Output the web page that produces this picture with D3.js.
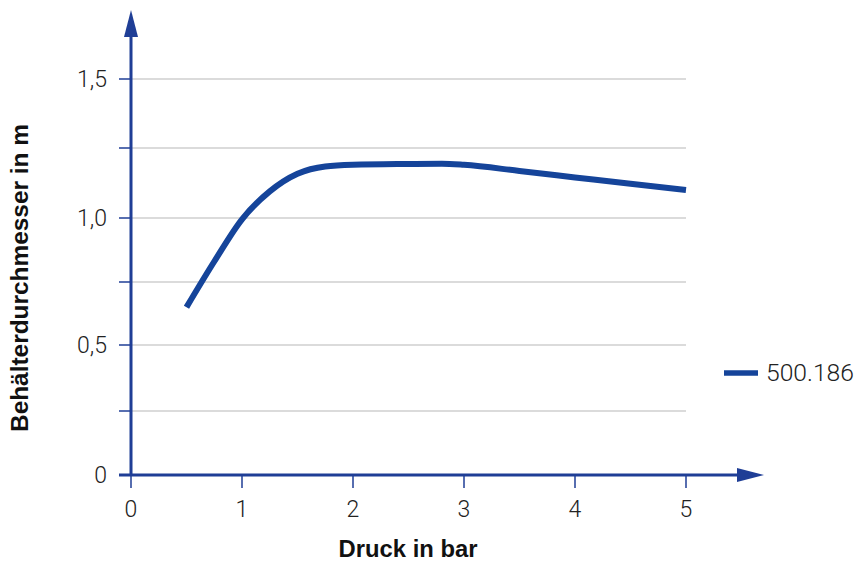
<!DOCTYPE html>
<html><head><meta charset="utf-8">
<script src="https://cdn.jsdelivr.net/npm/d3@7/dist/d3.min.js"></script>
<style>
html,body{margin:0;padding:0;background:#fff;}
text{font-family:"Liberation Sans","Helvetica Neue",Helvetica,Arial,sans-serif;}
text.lt{font-family:"Roboto","Liberation Sans",sans-serif;font-weight:300;}
</style></head>
<body><svg id="c" width="864" height="562"></svg>
<script>
// ---- data ----
const pressure = [0.5, 0.75, 1.0, 1.25, 1.5, 1.75, 2.0, 2.5, 2.8, 3.0, 3.5, 4.0, 4.5, 5.0];
const diameter = [0.65, 0.83, 0.995, 1.095, 1.158, 1.184, 1.19, 1.193, 1.194, 1.19, 1.168, 1.145, 1.122, 1.10];
const seriesName = "500.186";
const xTicks = [0, 1, 2, 3, 4, 5];
const yTicks = [0, 0.25, 0.5, 0.75, 1.0, 1.25, 1.5];
const yTickLabels = ["0", "", "0,5", "", "1,0", "", "1,5"];
const xTitle = "Druck in bar";
const yTitle = "Behälterdurchmesser in m";

const svg = d3.select("#c");
const axisColor = "#1f3e96";
const lineColor = "#15449a";

const x = d3.scaleLinear().domain([0, 5]).range([131, 686]);
const y = d3.scaleLinear().domain(yTicks).range([475, 411, 345, 282, 218, 148, 79]);

// gridlines
svg.append("g").selectAll("line").data(yTicks.filter(d => d > 0)).join("line")
  .attr("x1", 131).attr("x2", 686)
  .attr("y1", d => y(d)).attr("y2", d => y(d))
  .attr("stroke", "#cfcfcf").attr("stroke-width", 1.5);

// y ticks
svg.append("g").selectAll("line").data(yTicks).join("line")
  .attr("x1", 119).attr("x2", 131)
  .attr("y1", d => y(d)).attr("y2", d => y(d))
  .attr("stroke", axisColor).attr("stroke-width", 1.5);
svg.append("g").selectAll("text").data(yTicks).join("text")
  .attr("class", "lt")
  .attr("x", 107).attr("y", d => y(d)).attr("dy", "0.36em")
  .attr("text-anchor", "end").attr("font-size", 23).attr("fill", "#222")
  .text((d, i) => yTickLabels[i]);

// x ticks
svg.append("g").selectAll("line").data(xTicks).join("line")
  .attr("x1", d => x(d)).attr("x2", d => x(d))
  .attr("y1", 475).attr("y2", 488)
  .attr("stroke", axisColor).attr("stroke-width", 1.5);
svg.append("g").selectAll("text").data(xTicks).join("text")
  .attr("class", "lt")
  .attr("x", d => x(d)).attr("y", 517)
  .attr("text-anchor", "middle").attr("font-size", 23).attr("fill", "#222")
  .text(d => d);

// axes lines with arrows
svg.append("line").attr("x1", 131).attr("x2", 131).attr("y1", 476).attr("y2", 30)
  .attr("stroke", axisColor).attr("stroke-width", 3);
svg.append("path").attr("d", "M131,10 L124,37 L138,37 Z").attr("fill", axisColor);
svg.append("line").attr("x1", 119).attr("x2", 745).attr("y1", 475).attr("y2", 475)
  .attr("stroke", axisColor).attr("stroke-width", 3);
svg.append("path").attr("d", "M764,475 L737,468 L737,482 Z").attr("fill", axisColor);

// data line
const pts = pressure.map((p, i) => [p, diameter[i]]);
svg.append("path").datum(pts)
  .attr("fill", "none").attr("stroke", lineColor).attr("stroke-width", 6)
  .attr("stroke-linecap", "butt").attr("stroke-linejoin", "round")
  .attr("d", d3.line().x(d => x(d[0])).y(d => y(d[1])).curve(d3.curveMonotoneX));

// legend
svg.append("line").attr("x1", 724).attr("x2", 758).attr("y1", 373).attr("y2", 373)
  .attr("stroke", lineColor).attr("stroke-width", 5.5);
svg.append("text").attr("class", "lt").attr("x", 766).attr("y", 381).attr("font-size", 23).attr("fill", "#222")
  .attr("textLength", 88).attr("lengthAdjust", "spacingAndGlyphs")
  .text(seriesName);

// axis titles
svg.append("text").attr("x", 408).attr("y", 557).attr("text-anchor", "middle")
  .attr("font-size", 23).attr("font-weight", "bold").attr("fill", "#111")
  .attr("textLength", 139).attr("lengthAdjust", "spacingAndGlyphs")
  .text(xTitle);
svg.append("text").attr("transform", "translate(28,278) rotate(-90)")
  .attr("text-anchor", "middle")
  .attr("font-size", 23).attr("font-weight", "bold").attr("fill", "#111")
  .attr("textLength", 308).attr("lengthAdjust", "spacingAndGlyphs")
  .text(yTitle);
</script></body></html>
